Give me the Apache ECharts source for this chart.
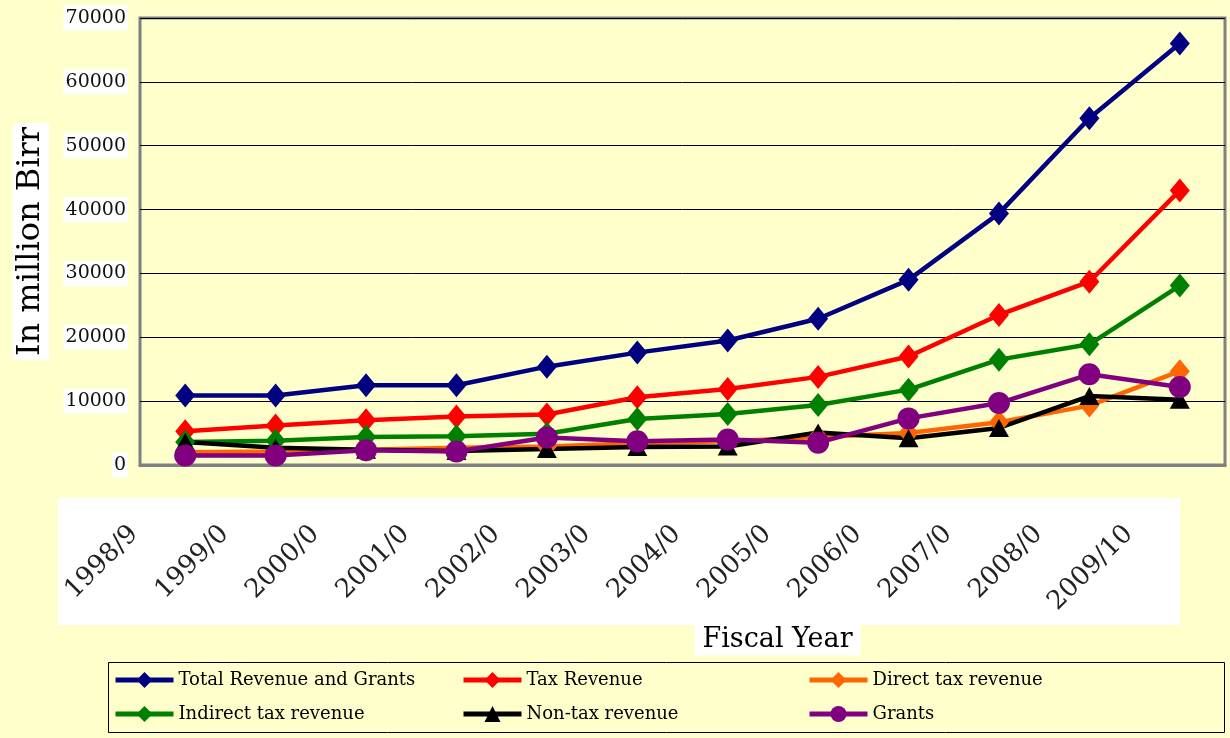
<!DOCTYPE html>
<html lang="en">
<head>
    <meta charset="utf-8">
    <title>Revenue and Grants</title>
    <style>
        * { margin: 0; padding: 0; }
        html, body { background: #FFFFCC; }
        #chart-container { width: 1230px; height: 738px; }
    </style>
</head>
<body>
    <div id="chart-container"></div>
    <script src="https://cdn.jsdelivr.net/npm/echarts@6/dist/echarts.min.js"></script>
    <script>
        // values (million Birr)
        var years = ['1998/99', '1999/00', '2000/01', '2001/02', '2002/03', '2003/04',
                     '2004/05', '2005/06', '2006/07', '2007/08', '2008/09', '2009/10'];
        var totalRevenue = [10900, 10900, 12500, 12500, 15400, 17600, 19500, 22900, 29000, 39400, 54300, 66000];
        var taxRevenue = [5300, 6200, 7000, 7600, 7900, 10600, 11900, 13800, 17000, 23500, 28700, 43000];
        var directTax = [2000, 2100, 2400, 2700, 2900, 3400, 3700, 4400, 5000, 6700, 9300, 14700];
        var indirectTax = [3600, 3800, 4400, 4500, 4900, 7200, 8000, 9400, 11800, 16500, 18900, 28100];
        var nonTax = [3600, 2700, 2400, 2200, 2500, 2800, 2900, 5100, 4200, 5800, 10800, 10200];
        var grants = [1500, 1500, 2300, 2100, 4300, 3700, 4000, 3500, 7300, 9700, 14200, 12200];

        var font = 'DejaVu Serif';

        function line(name, data, color, symbol, size) {
            return {
                name: name,
                type: 'line',
                data: data,
                symbol: symbol,
                symbolSize: size,
                itemStyle: { color: color },
                lineStyle: { color: color, width: 4.5 },
                emphasis: { disabled: true }
            };
        }

        // one vertical legend per column, the box is drawn separately
        function legendColumn(left, names) {
            return {
                orient: 'vertical',
                left: left,
                top: 670,
                padding: 0,
                itemWidth: 58,
                itemHeight: 20,
                itemGap: 14,
                lineStyle: { width: 5 },
                textStyle: { fontFamily: font, fontSize: 18, color: '#000', lineHeight: 20 },
                data: names
            };
        }

        var myChart = echarts.init(document.getElementById('chart-container'));

        var option = {
            backgroundColor: '#FFFFCC',
            animation: false,
            textStyle: { fontFamily: font },
            graphic: [{
                type: 'rect',
                z: -1,
                shape: { x: 58, y: 498, width: 1122, height: 127 },
                style: { fill: '#fff' }
            }, {
                type: 'rect',
                shape: { x: 108.5, y: 662.5, width: 1116, height: 70 },
                style: { fill: null, stroke: '#000', lineWidth: 1 }
            }],
            grid: {
                left: 140, top: 18, right: 5, bottom: 273,
                show: true,
                borderColor: '#808080',
                borderWidth: 3
            },
            legend: [
                legendColumn(113, ['Total Revenue and Grants', 'Indirect tax revenue']),
                legendColumn(461, ['Tax Revenue', 'Non-tax revenue']),
                legendColumn(807, ['Direct tax revenue', 'Grants'])
            ],
            xAxis: {
                type: 'category',
                data: years,
                name: '{pad|}{t|Fiscal Year}',
                nameLocation: 'middle',
                nameGap: 138,
                nameTextStyle: {
                    rich: {
                        pad: { width: 190 },
                        t: { fontFamily: font, fontSize: 27, color: '#000', backgroundColor: '#fff', padding: [4, 8, 2, 8] }
                    }
                },
                axisLine: { lineStyle: { color: '#808080', width: 3 } },
                axisTick: { lineStyle: { color: '#000', width: 1 }, length: 8 },
                axisLabel: {
                    rotate: 45,
                    margin: 14,
                    padding: [0, 72, 0, 0],
                    fontFamily: font,
                    fontSize: 26,
                    color: '#222',
                    interval: 0,
                    formatter: function (v, i) {
                        return i < years.length - 1 ? v.slice(0, 6) : v;
                    }
                }
            },
            yAxis: {
                type: 'value',
                min: 0,
                max: 70000,
                interval: 10000,
                name: 'In million Birr',
                nameLocation: 'middle',
                nameGap: 91,
                nameTextStyle: { fontFamily: font, fontSize: 32, color: '#000', backgroundColor: '#fff', padding: [2, 4, 2, 4] },
                axisLine: { show: false },
                axisTick: { show: false },
                splitLine: { lineStyle: { color: '#000', width: 1 } },
                axisLabel: {
                    fontFamily: font,
                    fontSize: 19,
                    color: '#111',
                    margin: 12,
                    backgroundColor: '#fff',
                    padding: [3, 2, 3, 2],
                    formatter: function (v) { return String(v); }
                }
            },
            series: [
                line('Total Revenue and Grants', totalRevenue, '#000080', 'diamond', [20, 24]),
                line('Tax Revenue', taxRevenue, '#FF0000', 'diamond', [20, 24]),
                line('Direct tax revenue', directTax, '#FF6600', 'diamond', [20, 24]),
                line('Indirect tax revenue', indirectTax, '#008000', 'diamond', [20, 24]),
                line('Non-tax revenue', nonTax, '#000000', 'triangle', [20, 18]),
                line('Grants', grants, '#800080', 'circle', 22)
            ]
        };

        myChart.setOption(option);
        window.addEventListener('resize', myChart.resize);
    </script>
</body>
</html>
